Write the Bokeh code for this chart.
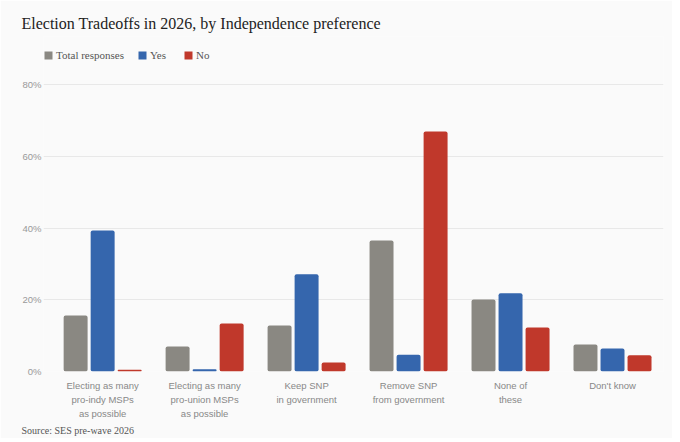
from bokeh.plotting import figure
from bokeh.models import (ColumnDataSource, Range1d, FixedTicker, Legend, LegendItem, Title,
                          PrintfTickFormatter, LinearAxis, CustomJSTickFormatter)
from bokeh.transform import dodge
from bokeh.embed import file_html
from bokeh.resources import INLINE

# data
label_line1 = ["Electing as many", "Electing as many", "Keep SNP", "Remove SNP", "None of", "Don't know"]
label_line2 = ["pro-indy MSPs", "pro-union MSPs", "in government", "from government", "these", ""]
label_line3 = ["as possible", "as possible", "", "", "", ""]
total = [15.6, 7.0, 12.8, 36.5, 20.1, 7.5]
yes = [39.3, 0.6, 27.1, 4.7, 21.8, 6.4]
no = [0.5, 13.4, 2.5, 66.9, 12.3, 4.5]
y_ticks = [0, 20, 40, 60, 80]

series = ["Total responses", "Yes", "No"]
colors = ["#8a8882", "#3566ad", "#c0382b"]

BG = "#fafafa"
SERIF = "Liberation Serif"
SANS = "Liberation Sans"

W, H = 672, 438
TOP, BOTTOM = 36, 67
FRAME_H = H - TOP - BOTTOM

# category slots on a plain numeric axis
xs = [i + 0.5 for i in range(len(label_line1))]
src = ColumnDataSource(data=dict(x=xs, total=total, yes=yes, no=no))

p = figure(width=W, height=H, output_backend="svg", toolbar_location=None,
           x_range=Range1d(-0.08, 6), y_range=Range1d(0, 93.4),
           background_fill_color=BG, border_fill_color=BG,
           min_border_left=43, min_border_right=9, min_border_top=TOP, min_border_bottom=BOTTOM,
           title="Election Tradeoffs in 2026, by Independence preference")
p.outline_line_color = None
p.title.text_font = SERIF
p.title.text_font_size = "16px"
p.title.text_font_style = "normal"
p.title.text_color = "#222222"
p.title.align = "left"
p.title.offset = -22

renderers = []
for col, off, c in zip(["total", "yes", "no"], [-0.265, 0, 0.265], colors):
    r = p.vbar(x=dodge("x", off), top=col, width=0.235, bottom=0, source=src,
               fill_color=c, line_color=None, border_radius=2)
    renderers.append(r)

legend = Legend(items=[LegendItem(label=s, renderers=[r]) for s, r in zip(series, renderers)],
                orientation="horizontal", location=(0, 310),
                background_fill_alpha=0, border_line_color=None,
                label_text_font=SERIF, label_text_font_size="11px", label_text_color="#555555",
                glyph_width=10, glyph_height=10, spacing=13, label_standoff=3,
                padding=0, margin=0)
p.add_layout(legend)

# x axis: one axis per label line
p.xaxis.ticker = FixedTicker(ticks=xs)
p.xaxis.formatter = CustomJSTickFormatter(args=dict(lines=label_line1),
                                          code="return lines[Math.round(tick - 0.5)]")
p.xaxis.major_label_standoff = 8
for lines in (label_line2, label_line3):
    ax = LinearAxis(ticker=FixedTicker(ticks=xs), major_label_standoff=0,
                    formatter=CustomJSTickFormatter(args=dict(lines=lines),
                                                    code="return lines[Math.round(tick - 0.5)]"))
    p.add_layout(ax, "below")
for ax in p.xaxis:
    ax.axis_line_color = None
    ax.major_tick_line_color = None
    ax.minor_tick_line_color = None
    ax.major_tick_out = 0
    ax.major_tick_in = 0
    ax.major_label_text_font = SANS
    ax.major_label_text_font_size = "9.5px"
    ax.major_label_text_line_height = 1.0
    ax.major_label_text_color = "#888888"

p.yaxis.ticker = FixedTicker(ticks=y_ticks)
p.yaxis.formatter = PrintfTickFormatter(format="%d%%")
p.yaxis.axis_line_color = None
p.yaxis.major_tick_line_color = None
p.yaxis.minor_tick_line_color = None
p.yaxis.major_tick_out = 0
p.yaxis.major_tick_in = 0
p.yaxis.major_label_text_font = SANS
p.yaxis.major_label_text_font_size = "9.5px"
p.yaxis.major_label_text_color = "#999999"
p.yaxis.major_label_standoff = 2

p.xgrid.grid_line_color = None
p.ygrid.grid_line_color = "#e8e8e8"
p.ygrid.ticker = FixedTicker(ticks=y_ticks)

p.add_layout(Title(text="Source: SES pre-wave 2026", align="left", offset=-22,
                   text_font=SERIF, text_font_size="10px", text_font_style="normal",
                   text_line_height=1.0, text_color="#555555", standoff=3), "below")

html = file_html(p, INLINE)
html = html.replace("<body>", '<body style="background:%s">' % BG, 1)
open("out.html", "w").write(html)
